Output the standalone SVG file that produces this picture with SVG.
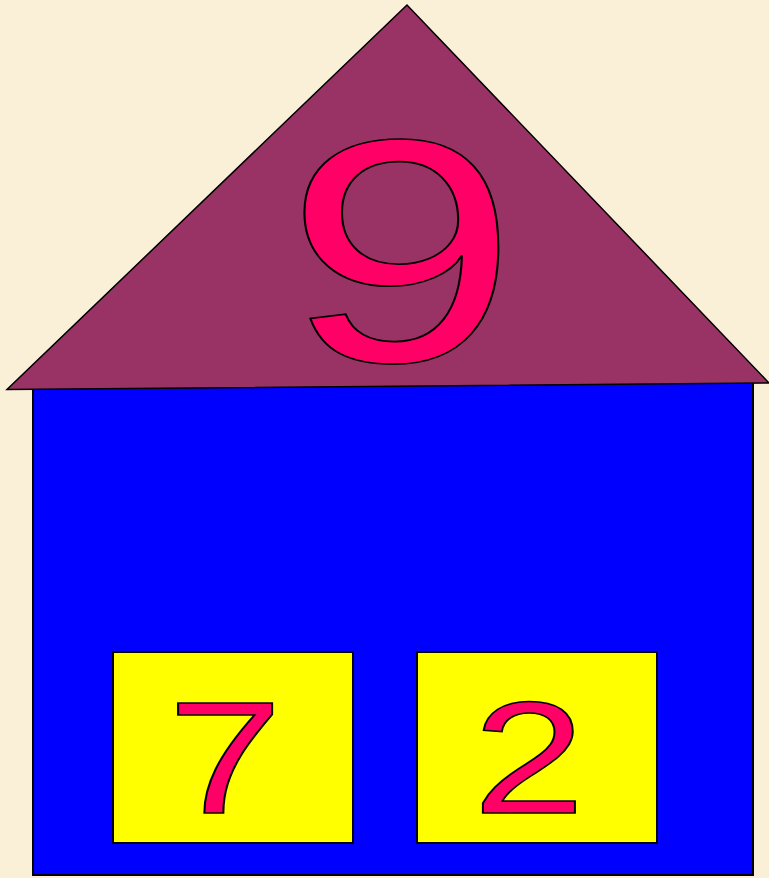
<svg xmlns="http://www.w3.org/2000/svg" width="769" height="878" viewBox="0 0 769 878">
<style>
.num{font-family:"Liberation Sans",Arial,sans-serif;fill:#FF0066;stroke:#000;stroke-width:1.6;text-anchor:middle}
.box{fill:#FFFF00;stroke:#000;stroke-width:2}
</style>
<rect width="769" height="878" fill="#FAF0D8"/>
<g id="house-body"><rect x="33" y="382" width="720" height="493" fill="#0000FF" stroke="#000" stroke-width="2"/></g>
<g id="roof">
<polygon points="407,5 7,389.5 769,383" fill="#993366" stroke="#000" stroke-width="1.5"/>
<text class="num" font-size="318" transform="translate(401.5,361) scale(1.32,1)" x="0" y="0">9</text>
</g>
<g id="box-left">
<rect class="box" x="113" y="652" width="240" height="191"/>
<text class="num" font-size="159" transform="translate(225,813) scale(1.3,1)" x="0" y="0">7</text>
</g>
<g id="box-right">
<rect class="box" x="417" y="652" width="240" height="191"/>
<text class="num" font-size="159" transform="translate(529,813) scale(1.27,1)" x="0" y="0">2</text>
</g>
</svg>
